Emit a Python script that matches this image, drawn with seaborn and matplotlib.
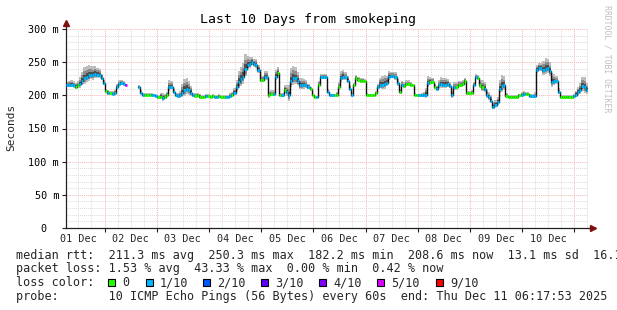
import numpy as np
import pandas as pd
import matplotlib
matplotlib.use("Agg")
import matplotlib.pyplot as plt
import matplotlib.dates as mdates
import matplotlib.ticker as mticker
from matplotlib.patches import Rectangle
import seaborn as sns

# ---------------- data ----------------
start_time = "2025-12-01 06:17:53"
n_hours = 240

median_ms = [
    215, 216, 216, 215, 213, 215, 217, 222, 226, 228,
    230, 231, 230, 232, 231, 231, 226, 218, 206, 204,
    203, 202, 204, 212, 217, 218, 217, 215, np.nan, np.nan,
    np.nan, np.nan, np.nan, 212, 204, 201, 201, 201, 201, 201,
    200, 199, 197, 198, 196, 197, 200, 212, 213, 205,
    200, 199, 200, 204, 208, 210, 208, 204, 200, 199,
    200, 198, 198, 198, 199, 199, 198, 199, 198, 198,
    199, 198, 198, 198, 198, 199, 201, 204, 212, 220,
    224, 228, 240, 246, 247, 250, 247, 246, 238, 223,
    223, 228, 228, 200, 202, 202, 228, 234, 200, 200,
    208, 205, 200, 222, 226, 226, 222, 215, 215, 215,
    215, 212, 210, 200, 197, 197, 216, 227, 227, 227,
    205, 200, 200, 200, 201, 212, 226, 228, 227, 222,
    210, 200, 215, 226, 223, 222, 222, 221, 201, 200,
    200, 200, 204, 212, 216, 216, 217, 219, 228, 229,
    229, 227, 218, 205, 216, 214, 217, 217, 216, 215,
    201, 200, 200, 200, 200, 201, 218, 220, 220, 212,
    210, 215, 217, 216, 216, 217, 214, 200, 212, 212,
    216, 216, 217, 222, 203, 203, 204, 215, 227, 226,
    215, 212, 210, 200, 197, 192, 183, 186, 190, 210,
    214, 215, 199, 198, 198, 198, 198, 198, 200, 201,
    202, 202, 202, 199, 199, 199, 238, 241, 241, 238,
    240, 241, 236, 220, 221, 221, 205, 198, 198, 198,
    198, 198, 198, 199, 201, 205, 208, 214, 212, 208,
]

loss_tenths = [
    1, 1, 1, 1, 0, 0, 1, 1, 1, 1,
    1, 1, 1, 1, 1, 1, 1, 1, 0, 1,
    0, 1, 1, 1, 1, 1, 1, 5, 0, 0,
    0, 0, 0, 1, 1, 1, 0, 0, 0, 1,
    1, 1, 0, 0, 1, 0, 0, 1, 1, 1,
    1, 1, 1, 1, 1, 1, 1, 1, 1, 0,
    0, 0, 0, 0, 1, 0, 0, 0, 1, 1,
    0, 0, 0, 1, 1, 1, 0, 1, 1, 1,
    1, 1, 1, 1, 1, 1, 1, 1, 1, 0,
    0, 1, 1, 0, 0, 1, 1, 0, 0, 1,
    0, 1, 1, 1, 1, 1, 1, 1, 1, 1,
    1, 1, 0, 0, 0, 1, 0, 1, 1, 1,
    1, 1, 1, 0, 0, 0, 1, 1, 1, 1,
    1, 1, 0, 0, 0, 0, 0, 0, 0, 0,
    0, 0, 0, 1, 1, 1, 1, 1, 1, 1,
    1, 1, 1, 0, 1, 0, 0, 0, 0, 0,
    0, 0, 1, 1, 1, 1, 1, 0, 0, 0,
    1, 1, 1, 1, 1, 1, 1, 1, 1, 0,
    0, 0, 0, 0, 0, 0, 0, 1, 1, 0,
    0, 0, 1, 1, 1, 1, 1, 1, 1, 1,
    1, 1, 0, 0, 0, 0, 0, 0, 0, 1,
    1, 0, 0, 1, 1, 1, 1, 1, 1, 1,
    1, 1, 1, 1, 1, 1, 1, 0, 0, 0,
    0, 0, 0, 1, 1, 1, 1, 1, 1, 1,
]

smoke_ms = [
    4, 4, 5, 5, 4, 5, 8, 10, 12, 12,
    12, 10, 10, 9, 8, 6, 5, 4, 3, 3,
    3, 3, 3, 4, 4, 4, 3, 3, 0, 0,
    0, 0, 0, 3, 3, 2, 2, 2, 2, 2,
    2, 2, 3, 4, 6, 4, 4, 8, 6, 4,
    3, 3, 5, 10, 12, 12, 10, 8, 3, 3,
    3, 3, 2, 2, 2, 2, 2, 2, 2, 2,
    2, 2, 2, 2, 2, 3, 3, 5, 8, 12,
    14, 15, 16, 10, 8, 6, 6, 6, 6, 5,
    5, 6, 6, 5, 4, 4, 8, 6, 3, 3,
    6, 8, 12, 14, 14, 12, 10, 8, 8, 7,
    6, 4, 2, 2, 2, 2, 4, 4, 4, 4,
    3, 2, 2, 2, 3, 6, 8, 8, 6, 5,
    4, 3, 3, 3, 3, 3, 3, 3, 2, 2,
    2, 2, 2, 4, 8, 10, 10, 8, 6, 5,
    5, 6, 5, 3, 4, 4, 4, 4, 3, 2,
    2, 2, 2, 3, 4, 8, 8, 6, 5, 4,
    3, 6, 8, 8, 8, 6, 4, 5, 6, 6,
    4, 4, 4, 3, 3, 3, 3, 4, 4, 4,
    6, 8, 8, 6, 6, 6, 5, 5, 6, 10,
    12, 10, 3, 2, 2, 2, 2, 2, 2, 3,
    3, 2, 2, 2, 2, 4, 6, 6, 6, 10,
    12, 10, 10, 10, 8, 6, 4, 2, 2, 2,
    2, 2, 2, 2, 4, 6, 8, 10, 12, 8,
]

loss_levels = [0, 1, 2, 3, 4, 5, 9]
loss_labels = ["0", "1/10", "2/10", "3/10", "4/10", "5/10", "9/10"]
loss_colors = ["#26ff00", "#00b8ff", "#0059ff", "#5e00ff", "#7e00ff", "#dd00ff", "#ff0000"]

y_ticks = [0, 50, 100, 150, 200, 250, 300]
y_tick_labels = ["0  ", "50 m", "100 m", "150 m", "200 m", "250 m", "300 m"]

rtt_stats = ["211.3 ms avg", "250.3 ms max", "182.2 ms min", "208.6 ms now", "13.1 ms sd", "16.1 am/as"]
loss_stats = ["1.53 % avg", "43.33 % max", "0.00 % min", "0.42 % now"]
probe_text = "10 ICMP Echo Pings (56 Bytes) every 60s"
end_text = "end: Thu Dec 11 06:17:53 2025"
title = "Last 10 Days from smokeping"

# ---------------- frame ----------------
times = pd.date_range(start_time, periods=n_hours, freq="h")
t_end = times[-1] + pd.Timedelta(hours=1)
med = np.array(median_ms, dtype=float)
smk = np.array(smoke_ms, dtype=float)
seg = np.cumsum(np.r_[0, np.diff(np.isnan(med).astype(int)) != 0])
df = pd.DataFrame({"time": times, "median_ms": med, "seg": seg,
                   "loss": loss_tenths, "smoke": smk})

sns.set_theme(style="white")
mono = "DejaVu Sans Mono"
plt.rcParams["font.family"] = [mono, "DejaVu Sans"]

W, H = 617, 310
fig = plt.figure(figsize=(W / 100, H / 100), dpi=100)
fig.patch.set_facecolor("white")
ax = fig.add_axes([66 / W, (H - 228) / H, 522 / W, 199 / H])
ax.set_facecolor("white")

def fxy(x, y):
    return x / W, 1 - y / H

# smoke (grey layers)
tt = list(times) + [t_end]
def ext(a):
    return np.r_[a, a[-1]]
for up, dn, col in [(1.35, 0.7, "#bdbdbd"), (0.85, 0.45, "#8c8c8c"), (0.45, 0.22, "#4e4e4e")]:
    ax.fill_between(tt, ext(med + up * smk), ext(med - dn * smk), step="post",
                    color=col, lw=0, zorder=2)

# median line (dark, stepped)
d2 = df.dropna(subset=["median_ms"])
d_last = d2.iloc[[-1]].copy()
d_last["time"] = t_end
d2 = pd.concat([d2, d_last])
sns.lineplot(data=d2, x="time", y="median_ms", units="seg", estimator=None,
             color="#111111", lw=1.0, drawstyle="steps-post", ax=ax, zorder=3,
             legend=False)

# loss-coloured median pieces
t_next = times + pd.Timedelta(hours=1)
for lvl, col in zip(loss_levels, loss_colors):
    m = (df["loss"].values == lvl) & ~np.isnan(med)
    if m.any():
        ax.hlines(med[m], times[m], t_next[m], colors=col, lw=2.1, zorder=4)

# axes
ax.set_xlim(times[0], t_end)
ax.set_ylim(0, 300)
ax.set_xlabel("")
ax.set_ylabel("")
ax.set_yticks(y_ticks)
ax.set_yticklabels(y_tick_labels)
ax.yaxis.set_minor_locator(mticker.MultipleLocator(10))
ax.xaxis.set_major_locator(mdates.DayLocator())
ax.xaxis.set_major_formatter(mticker.NullFormatter())
ax.xaxis.set_minor_locator(mdates.HourLocator(byhour=[0, 6, 12, 18]))

def minor_fmt(v, pos):
    d = mdates.num2date(v)
    return d.strftime("%d Dec") if d.hour == 12 else ""
ax.xaxis.set_minor_formatter(mticker.FuncFormatter(minor_fmt))

ax.set_axisbelow(True)
ax.grid(which="minor", color="#dcdcdc", ls=(0, (1, 1)), lw=0.7)
ax.grid(which="major", color="#f7b4b4", ls=(0, (1, 1)), lw=0.7)
ax.tick_params(which="major", length=3, width=0.8, color="#202020", direction="out",
               labelsize=7.3, pad=2, labelcolor="black", left=True, bottom=True)
ax.tick_params(axis="x", which="minor", length=0, pad=4, labelsize=7.3, bottom=True)
ax.tick_params(axis="y", which="minor", length=0)
for lab in ax.get_xticklabels(minor=True) + ax.get_yticklabels():
    lab.set_family(mono)
for s in ["top", "right"]:
    ax.spines[s].set_visible(False)
for s in ["left", "bottom"]:
    ax.spines[s].set_color("#202020")
    ax.spines[s].set_linewidth(0.9)

# axis arrows
ax.plot([0, 0], [1, 1.03], transform=ax.transAxes, color="#202020", lw=0.9, clip_on=False)
ax.plot([1, 1.008], [0, 0], transform=ax.transAxes, color="#202020", lw=0.9, clip_on=False)
ax.plot([0], [1.03], marker="^", ms=4, color="#7f1010", transform=ax.transAxes, clip_on=False)
ax.plot([1.009], [0], marker=">", ms=4, color="#7f1010", transform=ax.transAxes, clip_on=False)

# texts
fig.text(*fxy(308.5, 19.5), title, ha="center", va="center", fontsize=9.5, family=mono, color="black")
fig.text(*fxy(11, 127), "Seconds", rotation=90, ha="center", va="center", fontsize=8, family=mono)
fig.text(*fxy(607, 59), "RRDTOOL / TOBI OETIKER", rotation=270, ha="center", va="center",
         fontsize=5.9, family=mono, color="#c0c0c0")

leg_fs = 8.5
fig.text(*fxy(16, 255), "median rtt:  " + "  ".join(rtt_stats), ha="left", va="center",
         fontsize=leg_fs, family=mono)
fig.text(*fxy(16, 268.5), "packet loss: " + "  ".join(loss_stats), ha="left", va="center",
         fontsize=leg_fs, family=mono)
fig.text(*fxy(16, 282.5), "loss color:", ha="left", va="center", fontsize=leg_fs, family=mono)
sq_x = [108, 146, 203, 261, 319, 377, 436]
lab_x = [122, 160, 217, 275, 333, 391, 450]
for sx, lx, lab, col in zip(sq_x, lab_x, loss_labels, loss_colors):
    x0, y0 = fxy(sx, 286)
    fig.add_artist(Rectangle((x0, y0), 7 / W, 7 / H, transform=fig.transFigure,
                             facecolor=col, edgecolor="black", lw=0.8))
    fig.text(*fxy(lx, 282.5), lab, ha="left", va="center", fontsize=leg_fs, family=mono)
fig.text(*fxy(16, 296.5), "probe:       " + probe_text + "  " + end_text, ha="left",
         va="center", fontsize=leg_fs, family=mono)

fig.savefig("out.png", dpi=100, facecolor="white")
